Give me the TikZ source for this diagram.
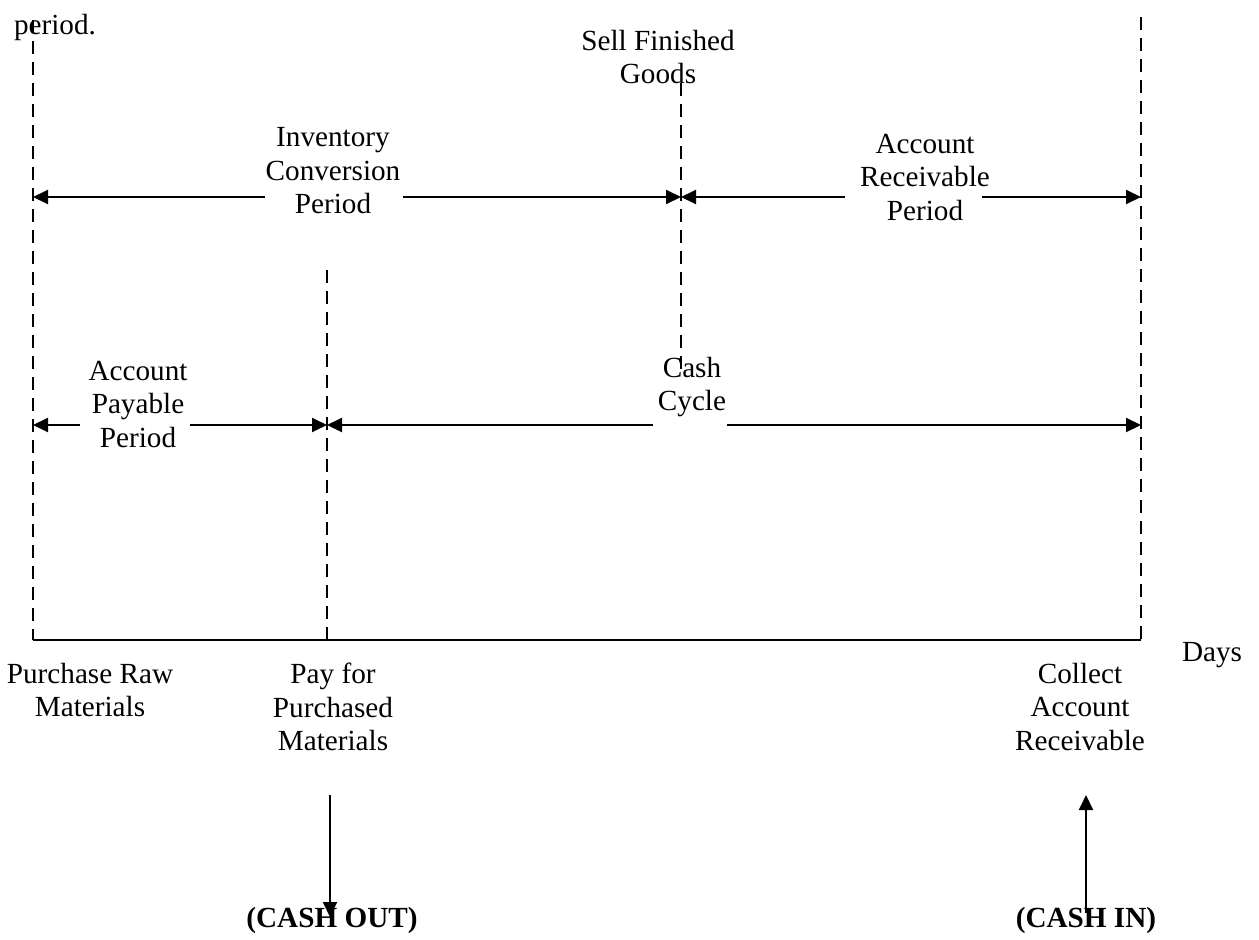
\documentclass[tikz,border=0pt]{standalone}
\usepackage{fontspec}
\setmainfont{Liberation Serif}
\usetikzlibrary{arrows.meta}
\begin{document}
\begin{tikzpicture}[x=1pt,y=-1pt,
  lbl/.style={align=center, inner sep=0pt, font=\fontsize{29.2}{33.5}\selectfont},
  boldlbl/.style={align=center, inner sep=0pt, font=\fontsize{29.2}{33.5}\selectfont\bfseries},
  guide/.style={line width=1.7pt, dash pattern=on 13pt off 8pt},
  axisline/.style={line width=2pt},
  arr/.style={line width=2pt, -{Triangle[length=15pt,width=14pt]}},
  ]
\useasboundingbox (0,0) rectangle (1259,940);

% event markers on the time line
\coordinate (purTop) at (33,20);
\coordinate (purBot) at (33,640);
\coordinate (payTop) at (327,270);
\coordinate (payBot) at (327,640);
\coordinate (sellTop) at (681,83);
\coordinate (sellBot) at (681,370);
\coordinate (colTop) at (1141,17);
\coordinate (colBot) at (1141,640);

% points on the upper period row
\coordinate (r1pur) at (33,197);
\coordinate (r1sell) at (681,197);
\coordinate (r1col) at (1141,197);
\coordinate (icpL) at (265,197);
\coordinate (icpR) at (403,197);
\coordinate (arpL) at (845,197);
\coordinate (arpR) at (982,197);

% points on the lower period row
\coordinate (r2pur) at (33,425);
\coordinate (r2pay) at (327,425);
\coordinate (r2col) at (1141,425);
\coordinate (appL) at (80,425);
\coordinate (appR) at (190,425);
\coordinate (ccL) at (653,425);
\coordinate (ccR) at (727,425);

% cash flow arrows
\coordinate (outTop) at (330,795);
\coordinate (outTip) at (330,917);
\coordinate (inBot) at (1086,913);
\coordinate (inTip) at (1086,795);

% labels
\node[lbl] (period) at (55,27) {period.};
\node[lbl] (sell) at (658,57) {Sell Finished\\Goods};
\node[lbl] (icp) at (333,171) {Inventory\\Conversion\\Period};
\node[lbl] (arp) at (925,177) {Account\\Receivable\\Period};
\node[lbl] (app) at (138,404) {Account\\Payable\\Period};
\node[lbl] (cc) at (692,387) {Cash\\Cycle};
\node[lbl] (purch) at (90,690) {Purchase Raw\\Materials};
\node[lbl] (payfor) at (333,707) {Pay for\\Purchased\\Materials};
\node[lbl] (collect) at (1080,707) {Collect\\Account\\Receivable};
\node[lbl] (days) at (1212,655) {Days};
\node[boldlbl] (cashout) at (332,920) {(CASH OUT)};
\node[boldlbl] (cashin) at (1086,920) {(CASH IN)};

% dashed event lines
\draw[guide] (purTop) -- (purBot);
\draw[guide] (payTop) -- (payBot);
\draw[guide] (sellTop) -- (sellBot);
\draw[guide] (colTop) -- (colBot);

% time axis
\draw[axisline] (purBot) -- (colBot);

% upper row periods
\draw[arr] (icpL) -- (r1pur);
\draw[arr] (icpR) -- (r1sell);
\draw[arr] (arpL) -- (r1sell);
\draw[arr] (arpR) -- (r1col);

% lower row periods
\draw[arr] (appL) -- (r2pur);
\draw[arr] (appR) -- (r2pay);
\draw[arr] (ccL) -- (r2pay);
\draw[arr] (ccR) -- (r2col);

% cash out and cash in
\draw[arr] (outTop) -- (outTip);
\draw[arr] (inBot) -- (inTip);
\end{tikzpicture}
\end{document}
